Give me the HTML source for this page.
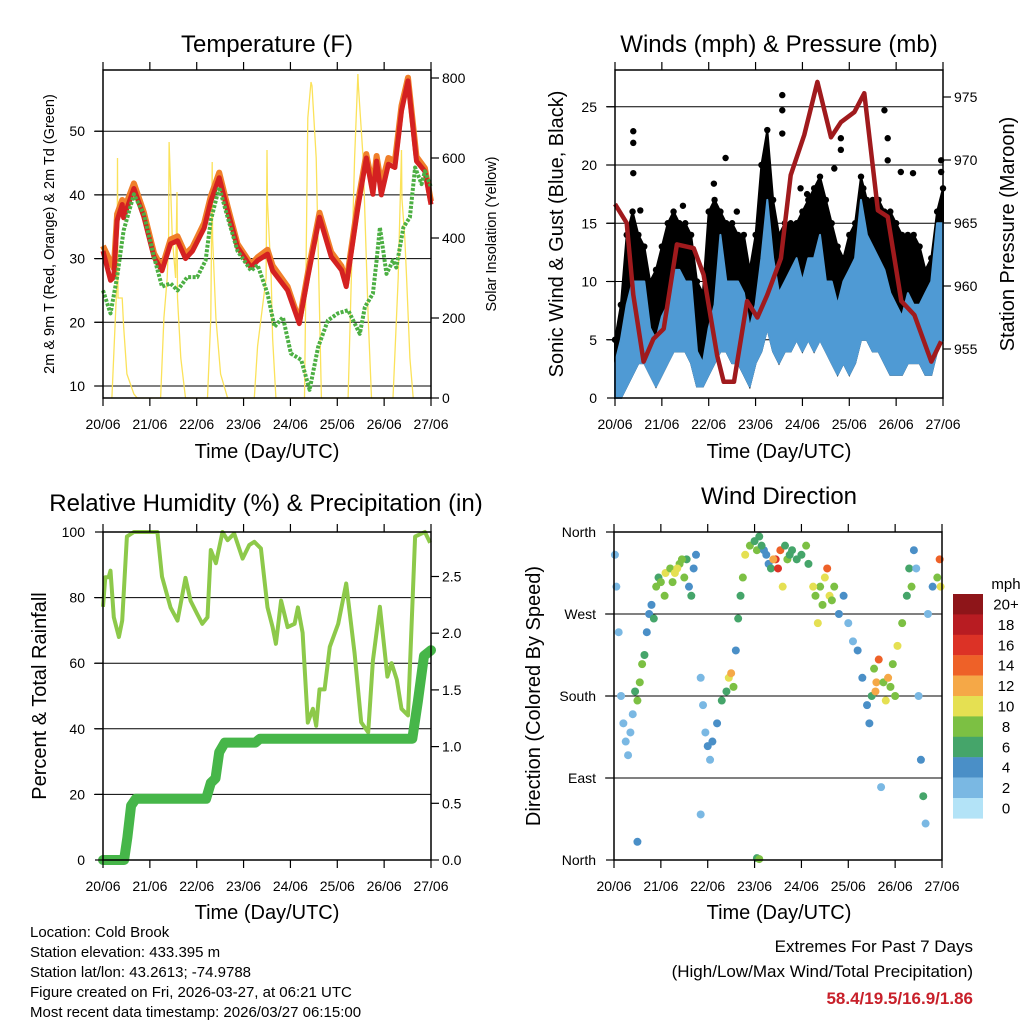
<!DOCTYPE html>
<html><head><meta charset="utf-8"><style>
html,body{margin:0;padding:0;background:#fff;}
svg{display:block;font-family:"Liberation Sans",sans-serif;}
</style></head><body>
<svg id="chart" width="1024" height="1024" viewBox="0 0 1024 1024" xmlns="http://www.w3.org/2000/svg">
<rect x="0" y="0" width="1024" height="1024" fill="#fff"/>
<g id="layer"></g>
<text x="267" y="52" font-size="24" text-anchor="middle">Temperature (F)</text>
<text x="779" y="52" font-size="24" text-anchor="middle">Winds (mph) &amp; Pressure (mb)</text>
<text x="266" y="511" font-size="24" text-anchor="middle">Relative Humidity (%) &amp; Precipitation (in)</text>
<text x="779" y="504" font-size="24" text-anchor="middle">Wind Direction</text>
<text x="267" y="458" font-size="20" text-anchor="middle">Time (Day/UTC)</text>
<text x="779" y="458" font-size="20" text-anchor="middle">Time (Day/UTC)</text>
<text x="267" y="919" font-size="20" text-anchor="middle">Time (Day/UTC)</text>
<text x="779" y="919" font-size="20" text-anchor="middle">Time (Day/UTC)</text>
<text transform="translate(54,234) rotate(-90)" font-size="14.5" text-anchor="middle">2m &amp; 9m T (Red, Orange) &amp; 2m Td (Green)</text>
<text transform="translate(496,234) rotate(-90)" font-size="14.5" text-anchor="middle">Solar Insolation (Yellow)</text>
<text transform="translate(563,234) rotate(-90)" font-size="20" text-anchor="middle">Sonic Wind &amp; Gust (Blue, Black)</text>
<text transform="translate(1014,234) rotate(-90)" font-size="20" text-anchor="middle">Station Pressure (Maroon)</text>
<text transform="translate(46,696) rotate(-90)" font-size="20" text-anchor="middle">Percent &amp; Total Rainfall</text>
<text transform="translate(540,696) rotate(-90)" font-size="20" text-anchor="middle">Direction (Colored By Speed)</text>
<g font-size="15">
<text x="30" y="937">Location: Cold Brook</text>
<text x="30" y="957">Station elevation: 433.395 m</text>
<text x="30" y="977">Station lat/lon: 43.2613; -74.9788</text>
<text x="30" y="997">Figure created on Fri, 2026-03-27, at 06:21 UTC</text>
<text x="30" y="1017">Most recent data timestamp: 2026/03/27 06:15:00</text>
</g>
<g font-size="17" text-anchor="end">
<text x="973" y="952">Extremes For Past 7 Days</text>
<text x="973" y="977">(High/Low/Max Wind/Total Precipitation)</text>
<text x="973" y="1004" fill="#c8202a" font-weight="bold">58.4/19.5/16.9/1.86</text>
</g>
</svg>
<script>
// ---------- data ----------
const dayLabels = ["20/06","21/06","22/06","23/06","24/06","25/06","26/06","27/06"];
const tempT = [0,0.16,0.23,0.30,0.41,0.44,0.66,0.87,1.09,1.26,1.44,1.59,1.76,1.91,2.16,2.30,2.48,2.66,2.87,3.16,3.30,3.51,3.62,3.94,4.19,4.37,4.62,4.87,5.09,5.19,5.44,5.62,5.76,5.84,5.94,6.09,6.23,6.37,6.51,6.69,6.87,7.0];
const tempRed = [31.2,26.6,27.1,36.0,38.5,36.4,41.0,36.6,30.2,28.1,32.3,32.8,30.0,31.2,34.8,39.0,42.7,37.5,31.8,28.6,29.7,30.7,28.1,25.0,19.8,27.1,36.5,30.3,28.2,25.6,38.0,45.8,40.1,45.3,40.0,44.8,44.3,53.2,57.9,45.3,43.7,38.5];
const tempOrange = [32.0,29.5,28.5,37.0,39.2,37.5,41.8,37.3,30.8,28.6,33.0,33.5,30.7,31.8,35.6,39.8,43.5,38.2,32.3,29.1,30.2,31.4,28.9,25.6,20.2,27.7,37.2,31.0,28.8,26.1,38.8,46.4,41.2,46.1,41.5,45.8,45.3,54.0,58.4,46.0,44.2,39.0];
const dewT = [0,0.16,0.30,0.44,0.66,0.87,1.09,1.26,1.44,1.59,1.80,2.01,2.19,2.30,2.48,2.66,2.87,3.16,3.30,3.51,3.66,3.84,4.01,4.23,4.41,4.59,4.80,5.01,5.23,5.48,5.59,5.76,5.84,5.91,6.05,6.19,6.26,6.41,6.55,6.66,6.80,6.87,7.0];
const dewV = [25.0,21.4,27.1,34.4,40.1,37.0,30.2,25.6,26.1,25.0,27.1,27.1,29.7,36.0,41.2,36.5,31.2,28.1,29.0,24.5,19.3,20.8,15.1,14.1,9.4,16.1,20.3,21.4,21.9,18.2,22.4,24.5,29.7,34.9,27.6,29.7,28.6,34.9,36.5,44.3,41.7,43.7,41.2];
const solarT = [0.19,0.30,0.31,0.32,0.41,0.44,0.51,0.66,0.73,1.23,1.30,1.37,1.40,1.41,1.48,1.55,1.58,1.59,1.66,1.76,2.23,2.30,2.33,2.34,2.41,2.51,2.66,3.23,3.30,3.48,3.50,3.51,3.59,3.62,3.69,4.30,4.37,4.44,4.46,4.55,4.66,5.23,5.37,5.44,5.45,5.55,5.66,5.73,6.19,6.30,6.37,6.38,6.44,6.48,6.55,6.62];
const solarV = [0,300,600,250,250,180,60,10,0,0,200,300,400,640,400,300,515,250,100,0,0,200,590,400,200,60,0,0,130,300,620,490,300,150,0,0,700,790,780,600,0,0,600,810,780,600,200,0,0,300,620,500,400,300,100,0];
const windMax = [3,5,8,10,10,10,6,5, 7,8,11,11,10,10,4,3, 6,8,14,10,10,10,9,6, 8,12,17,12,9,10,11,12, 10,12,12,14,10,10,8,10, 11,12,17,14,13,12,11,9, 8,7,9,8,8,9,10,15,15];
const windMin = [0,0,1,2,3,3,2,1, 2,3,4,4,4,3,1,1, 2,3,4,4,3,3,2,1, 3,4,6,4,3,4,4,5, 4,5,4,5,4,3,2,3, 2,3,5,5,4,4,3,2, 2,2,3,3,3,2,2,4,5];
const gustMax = [5,8,14,16,14,13,10,11, 13,15,16,15,15,14,10,9, 16,17,16,15,15,14,14,11, 14,20,23,17,14,15,15,15, 16,17,18,19,17,15,13,12, 14,15,19,17,17,17,16,16, 15,14,14,14,13,11,12,16,18];
const gustOutT = [0.39,0.39,0.39,0.54,2.36,2.11,3.57,3.57,3.57,3.96,4.82,4.82,4.68,5.75,5.82,5.82,6.36,6.96,6.96,6.10,1.45,2.60,4.10,5.30];
const gustOutV = [22.9,21.9,19.3,16.1,20.6,18.4,26.0,24.7,22.7,18.0,22.3,21.3,19.7,24.7,22.3,20.4,19.3,20.4,19.4,19.4,16.5,16.0,17.5,18.0];
const presT = [0,0.25,0.39,0.61,0.82,1.04,1.32,1.68,1.89,2.18,2.32,2.54,2.82,3.04,3.25,3.54,3.75,4.04,4.32,4.61,4.82,5.11,5.32,5.61,5.82,6.11,6.39,6.75,6.96];
const presV = [966.5,965,959.3,954,955.8,956.6,963.3,963,960.9,954.5,952.4,952.4,958.8,957.5,959.3,962.2,968.8,972,976.2,971.8,973,973.8,975.3,966,965.5,958.8,957.7,954,955.6];
const rhT = [0,0.05,0.12,0.16,0.23,0.34,0.41,0.51,0.66,1.16,1.26,1.44,1.59,1.76,1.87,2.01,2.12,2.23,2.30,2.41,2.55,2.66,2.80,2.98,3.12,3.23,3.37,3.51,3.62,3.69,3.80,3.94,4.09,4.16,4.26,4.37,4.48,4.55,4.62,4.73,4.84,5.02,5.19,5.37,5.51,5.66,5.76,5.91,6.07,6.16,6.27,6.37,6.51,6.66,6.87,6.98];
const rhV = [77.2,86.2,86.2,88.2,74,68,73,98.6,100,100,86.4,77,73,86,79,75,72,74,94.5,90.5,100,97.5,99.5,91.9,96,97,95,77,71,65.9,79.1,71,72,77,69.3,41.9,46.1,40.9,52,52,65,72,84.3,63,42,38.9,60.8,77.2,55.9,60,55,46.1,44.1,98.6,100,96.7];
const precipT = [0,0.45,0.52,0.6,0.7,2.2,2.3,2.4,2.48,2.6,3.25,3.35,6.6,6.72,6.85,7.0];
const precipV = [0,0,0.2,0.48,0.54,0.54,0.68,0.72,0.95,1.035,1.035,1.07,1.07,1.4,1.8,1.85];
const dirT = [0.02,0.05,0.1,0.15,0.2,0.25,0.3,0.35,0.4,0.45,0.5,0.55,0.6,0.65,0.7,0.75,0.8,0.85,0.9,0.95,1.0,1.1,1.2,1.3,1.4,1.5,1.55,1.6,1.65,1.7,1.75,1.85,1.9,1.95,2.0,2.05,2.1,2.2,2.3,2.4,2.45,2.5,2.55,2.6,2.65,2.7,2.75,2.8,2.9,3.0,3.05,3.1,3.2,3.3,3.35,3.45,3.5,3.55,3.6,3.7,3.8,3.9,4.0,4.1,4.15,4.3,4.35,4.4,4.5,4.55,4.6,4.7,4.8,4.9,5.0,5.1,5.2,5.3,5.4,5.45,5.5,5.55,5.6,5.65,5.75,5.85,5.95,6.05,6.15,6.25,6.3,6.4,6.45,6.5,6.55,6.6,6.65,6.7,6.8,6.9,6.95,6.97,3.05,3.1,0.5,1.85,5.7,1.08,1.25,1.35,1.45,3.15,3.25,3.4,3.65,3.75,4.25,4.45,4.65,5.58,5.8,5.9,6.0,6.35];
const dirV = [335,300,250,180,150,130,115,140,160,185,175,195,215,225,250,270,280,265,300,310,305,315,320,315,325,310,330,300,290,320,335,200,170,140,125,110,130,150,175,185,200,205,190,230,265,290,310,335,345,350,340,355,340,325,320,330,320,340,300,330,340,330,335,345,325,290,260,300,310,320,290,300,270,290,260,240,230,200,170,150,180,210,195,220,195,200,215,235,260,290,320,340,320,180,110,70,40,270,300,310,330,300,2,1,20,50,80,290,305,320,330,345,335,330,345,335,300,280,285,185,175,190,180,300];
const dirS = [3,3,2,2,2,2,3,2,2,7,8,8,9,6,5,4,5,6,8,7,8,10,9,11,8,9,7,5,7,4,4,2,2,3,4,2,5,5,7,7,10,13,8,5,7,6,8,10,8,6,9,7,5,4,6,16,17,14,10,8,7,6,6,8,7,8,10,9,11,14,10,8,5,4,3,3,5,4,4,4,6,8,12,15,9,12,9,10,9,7,7,4,3,3,5,7,3,3,5,8,14,10,6,8,4,2,2,8,9,10,8,6,5,12,7,7,11,8,9,12,11,9,8,9];
const cbLabels = ["20+","18","16","14","12","10","8","6","4","2","0"];
const cbColors = ["#8e1519","#b81c22","#dc3226","#ee6128","#f5a847","#e5e052","#7cc043","#45a56a","#4a8fc7","#7ab8e3","#b3e3f7"];
const tempTicks = [10,20,30,40,50];
const solarTicks = [0,200,400,600,800];
const windTicks = [0,5,10,15,20,25];
const presTicks = [955,960,965,970,975];
const rhTicks = [0,20,40,60,80,100];
const prTicks = ["0.0","0.5","1.0","1.5","2.0","2.5"];
const dirTicks = [0,90,180,270,360];
const dirNames = ["North","East","South","West","North"];

// ---------- helpers ----------
const NS = "http://www.w3.org/2000/svg";
const layer = document.getElementById('layer');
function mk(tag, a, parent) {
  const e = document.createElementNS(NS, tag);
  for (const k in a) e.setAttribute(k, a[k]);
  (parent || layer).appendChild(e);
  return e;
}
function pathOf(xs, ys) { return xs.map((x,i)=>(i?'L':'M')+x.toFixed(1)+','+ys[i].toFixed(1)).join(''); }

const P1 = {x0:103,x1:431,y0:70,y1:398};
const P2 = {x0:615,x1:943,y0:70,y1:398};
const P3 = {x0:103,x1:431,y0:532,y1:860};
const P4 = {x0:614,x1:942,y0:532,y1:860};
const xOf = (P,d) => P.x0 + d*(P.x1-P.x0)/7;
const yT = v => 386 - (v-10)*6.37;
const ySol = v => 398 - v*0.4;
const yW = v => 398 - v*11.65;
const yP = p => 349 - (p-955)*12.6;
const yRH = v => 860 - v*3.28;
const yPr = v => 860 - v*113.4;
const yD = d => 860 - d*328/360;

function frame(P, name) {
  const g = mk('g', {});
  
  
  dayLabels.forEach((lab, i) => {
    const x = xOf(P, i);
    const t1 = mk('line', {x1:x,y1:P.y0,x2:x,y2:P.y0-8,stroke:'#000','stroke-width':1.2}, g);
    
    
    const t2 = mk('line', {x1:x,y1:P.y1,x2:x,y2:P.y1+8,stroke:'#000','stroke-width':1.2}, g);
    
    
    const tx = mk('text', {x:x,y:P.y1+31,'font-size':14,'text-anchor':'middle'}, g);
    tx.textContent = lab;
    
    
  });
  return g;
}
function box(P, name) {
  const r = mk('rect', {x:P.x0,y:P.y0,width:P.x1-P.x0,height:P.y1-P.y0,fill:'none',stroke:'#000','stroke-width':1.5});
  
  
}
function grid(P, ys, name) {
  ys.forEach(y => {
    const l = mk('line', {x1:P.x0-9,y1:y,x2:P.x1,y2:y,stroke:'#000','stroke-width':1});
    
    
  });
}
function yLabels(P, vals, texts, yf, side, name) {
  vals.forEach((v, i) => {
    const y = yf(v);
    const x = side === 'left' ? P.x0 : P.x1;
    const d = side === 'left' ? -8 : 8;
    const t = mk('line', {x1:x,y1:y,x2:x+d,y2:y,stroke:'#000','stroke-width':1.2});
    
    
    const tx = mk('text', {x: side==='left' ? P.x0-18 : P.x1+11, y:y+5, 'font-size':14, 'text-anchor': side==='left' ? 'end' : 'start'});
    tx.textContent = texts[i];
    
    
  });
}

// ---------- Panel 1: Temperature ----------
grid(P1, tempTicks.map(yT), 'temperature');
const sol = mk('path', {d:pathOf(solarT.map(d=>xOf(P1,d)), solarV.map(ySol)), fill:'none', stroke:'#fbe25a', 'stroke-width':1.3});


const tor = mk('path', {d:pathOf(tempT.map(d=>xOf(P1,d)), tempOrange.map(yT)), fill:'none', stroke:'#f07f2a', 'stroke-width':6, 'stroke-linejoin':'round'});


const tred = mk('path', {d:pathOf(tempT.map(d=>xOf(P1,d)), tempRed.map(yT)), fill:'none', stroke:'#d42121', 'stroke-width':5, 'stroke-linejoin':'round'});


const dew = mk('path', {d:pathOf(dewT.map(d=>xOf(P1,d)), dewV.map(yT)), fill:'none', stroke:'#4caf43', 'stroke-width':4, 'stroke-dasharray':'3,1.5', 'stroke-linejoin':'round'});


box(P1, 'temperature');
frame(P1, 'temperature');
yLabels(P1, tempTicks, tempTicks.map(String), yT, 'left', 'temperature-y');
yLabels(P1, solarTicks, solarTicks.map(String), ySol, 'right', 'solar-y');

// ---------- Panel 2: Winds ----------
grid(P2, windTicks.slice(1).map(yW), 'winds');
const wT = windMax.map((v,i)=>i/8);
const gband = mk('path', {d: pathOf(wT.map(d=>xOf(P2,d)), gustMax.map(yW)) + pathOf(wT.slice().reverse().map(d=>xOf(P2,d)), windMin.slice().reverse().map(yW)).replace('M','L') + 'Z', fill:'#000', stroke:'#000', 'stroke-width':2});


gustMax.forEach((v,i) => {
  const c = mk('circle', {cx:xOf(P2,wT[i]), cy:yW(v), r:3.2, fill:'#000'});
  
  
});
gustOutT.forEach((d,i) => {
  const c = mk('circle', {cx:xOf(P2,d), cy:yW(gustOutV[i]), r:3.2, fill:'#000'});
  
  
});
const wband = mk('path', {d: pathOf(wT.map(d=>xOf(P2,d)), windMax.map(yW)) + pathOf(wT.slice().reverse().map(d=>xOf(P2,d)), windMin.slice().reverse().map(yW)).replace('M','L') + 'Z', fill:'#4f9ad4', stroke:'#4f9ad4', 'stroke-width':2, 'stroke-linejoin':'round'});


const pres = mk('path', {d:pathOf(presT.map(d=>xOf(P2,d)), presV.map(yP)), fill:'none', stroke:'#a01a1d', 'stroke-width':4.5, 'stroke-linejoin':'round'});


box(P2, 'winds');
frame(P2, 'winds');
yLabels(P2, windTicks, windTicks.map(String), yW, 'left', 'wind-y');
yLabels(P2, presTicks, presTicks.map(String), yP, 'right', 'pressure-y');

// ---------- Panel 3: RH & precip ----------
grid(P3, rhTicks.slice(1,5).map(yRH), 'humidity');
const rh = mk('path', {d:pathOf(rhT.map(d=>xOf(P3,d)), rhV.map(yRH)), fill:'none', stroke:'#8dc94a', 'stroke-width':4, 'stroke-linejoin':'round'});


const pr = mk('path', {d:pathOf(precipT.map(d=>xOf(P3,d)), precipV.map(yPr)), fill:'none', stroke:'#46b649', 'stroke-width':10, 'stroke-linejoin':'round', 'stroke-linecap':'round'});


box(P3, 'humidity');
frame(P3, 'humidity');
yLabels(P3, rhTicks, rhTicks.map(String), yRH, 'left', 'humidity-y');
yLabels(P3, prTicks.map(Number), prTicks, yPr, 'right', 'precip-y');

// ---------- Panel 4: Wind direction ----------
grid(P4, [90,180,270].map(yD), 'direction');
function binColor(s) { let k = Math.min(10, Math.floor(s/2)); return cbColors[10-k]; }
dirT.forEach((d,i) => {
  const c = mk('circle', {cx:xOf(P4,d), cy:yD(dirV[i]), r:4, fill:binColor(dirS[i])});
  
  
});
box(P4, 'direction');
frame(P4, 'direction');
yLabels(P4, dirTicks, dirNames, yD, 'left', 'direction-y');
const cbg = mk('g', {});


const mphT = mk('text', {x:1006,y:589,'font-size':15,'text-anchor':'middle'}, cbg);
mphT.textContent = 'mph';


cbLabels.forEach((lab,i) => {
  const y = 594 + i*20.4;
  const r = mk('rect', {x:953,y:y,width:30,height:20.6,fill:cbColors[i]}, cbg);
  
  
  const t = mk('text', {x:1006,y:y+15.5,'font-size':15,'text-anchor':'middle'}, cbg);
  t.textContent = lab;
  
  
});
</script>
</body></html>
